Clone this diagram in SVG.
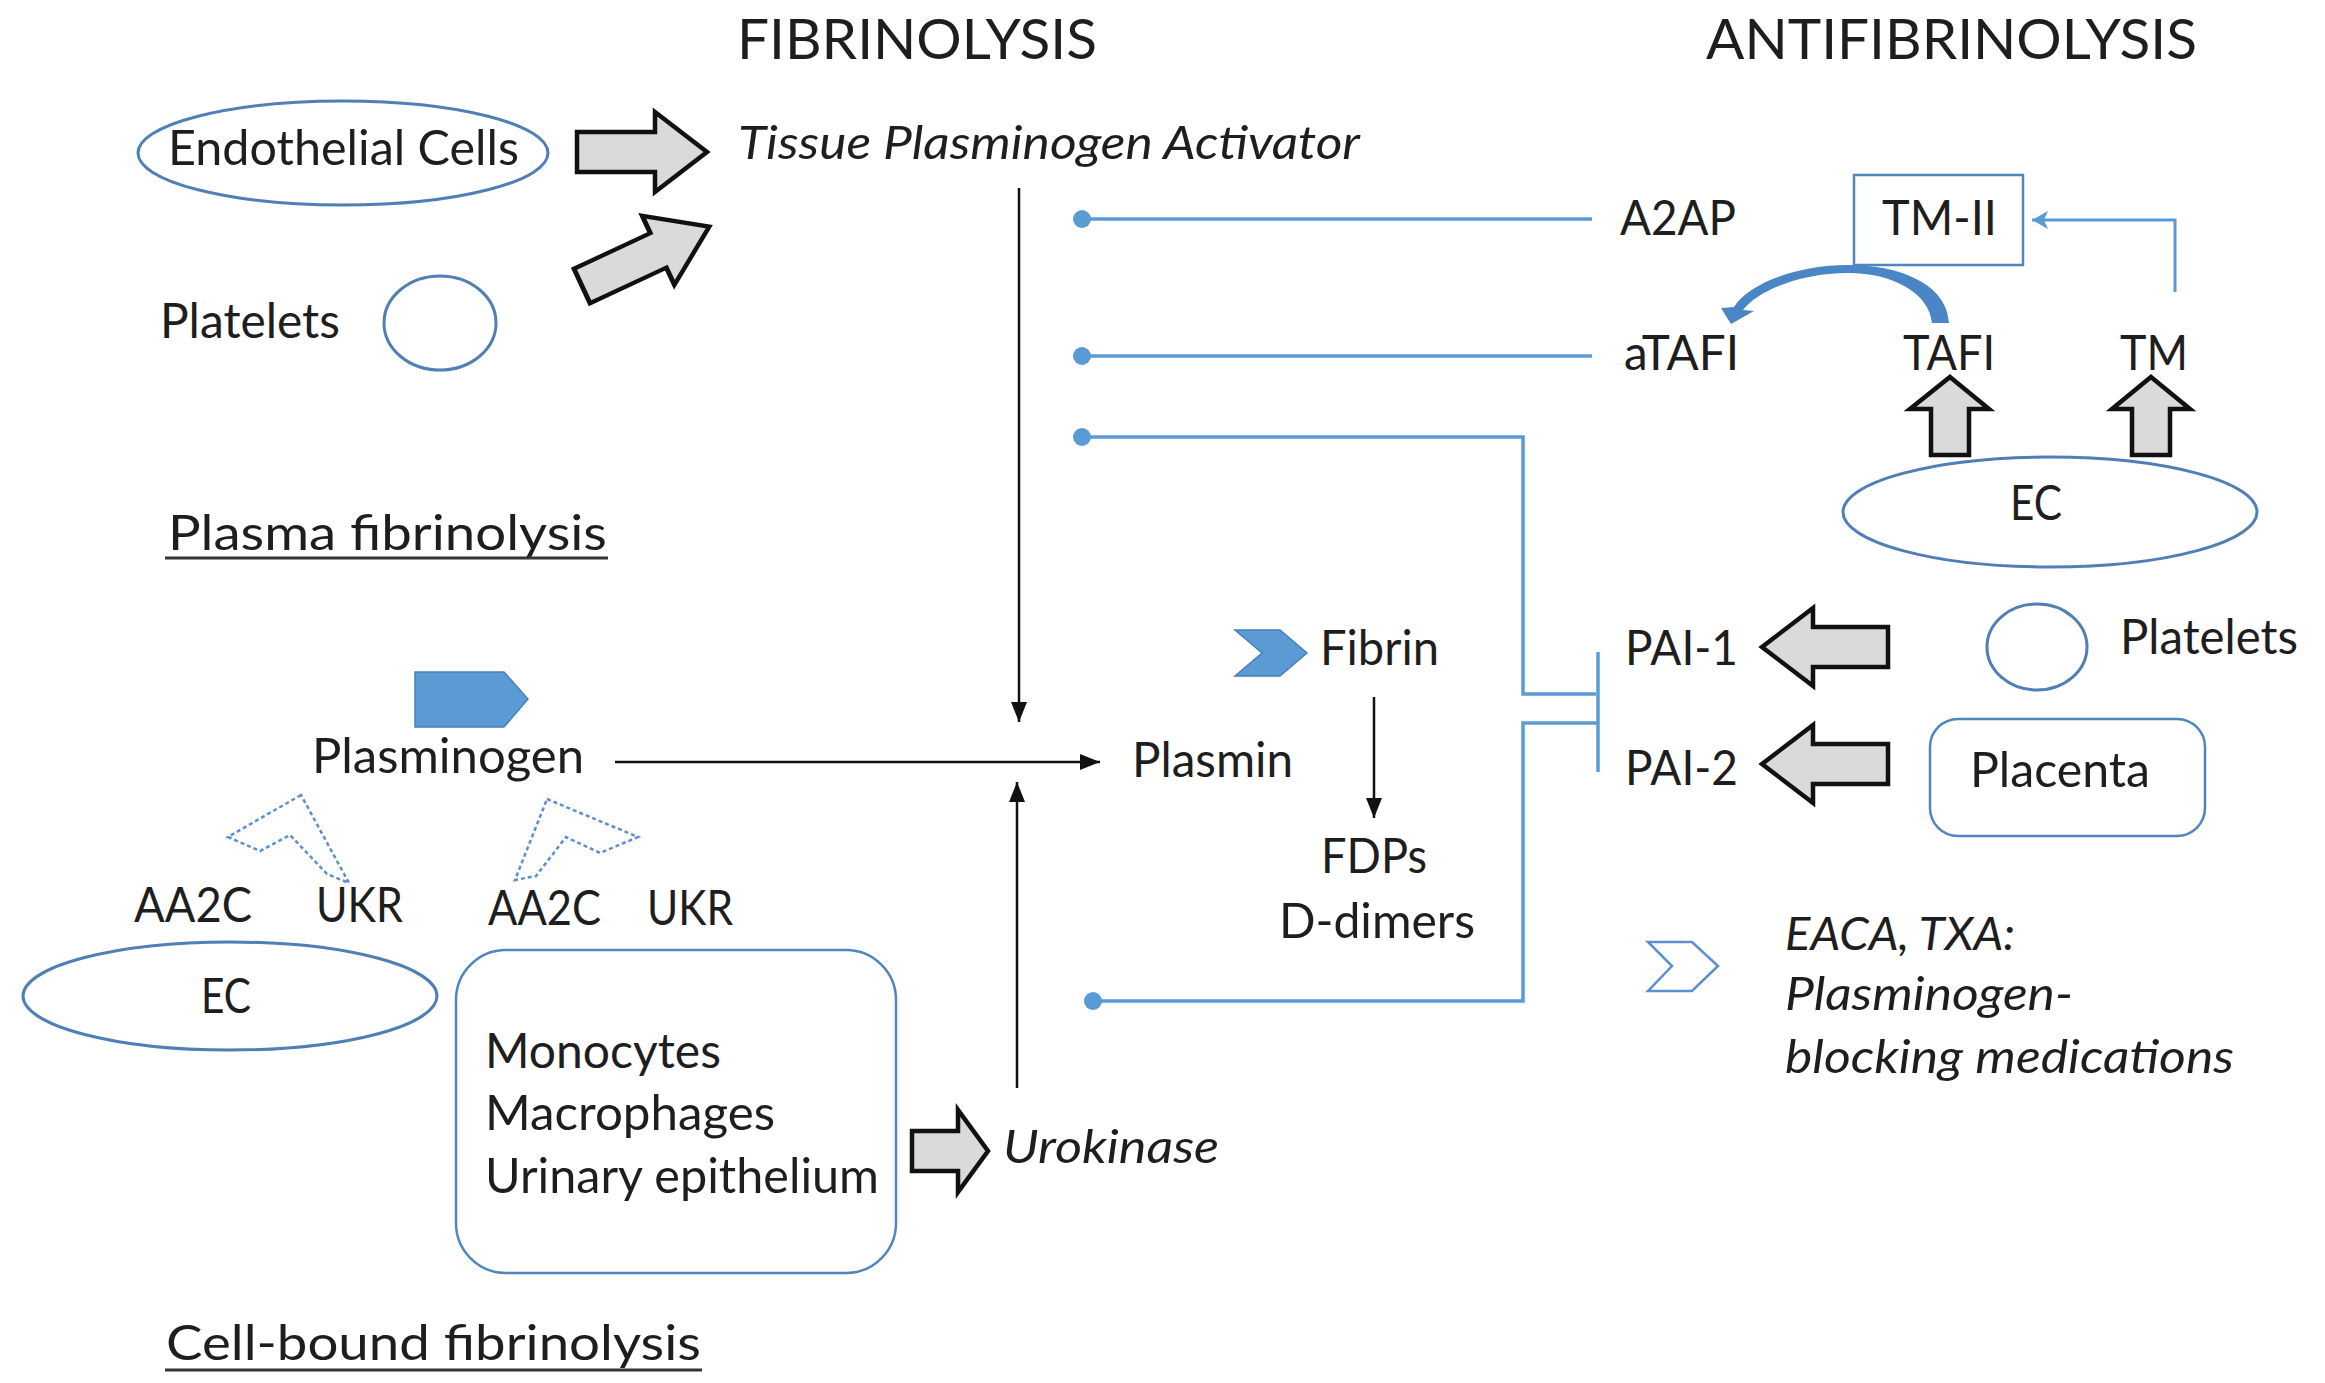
<svg xmlns="http://www.w3.org/2000/svg" width="2325" height="1383" viewBox="0 0 2325 1383">
<defs>
<style>
text{font-family:Lato,"Open Sans","Liberation Sans",sans-serif;fill:#1e1e1e;font-size:48px}
.h{font-size:57px}
.it{font-style:italic;font-size:47px}
.ell{fill:#fff;stroke:#4f7fb5;stroke-width:3}
.box{fill:#fff;stroke:#4f86c0;stroke-width:2.5}
.bl{fill:none;stroke:#5b9bd5;stroke-width:3.5}
.dot{fill:#5b9bd5}
.blk{fill:none;stroke:#111;stroke-width:2.5}
.ga{fill:#dadada;stroke:#111;stroke-width:4.5;stroke-linejoin:miter}
.dash{fill:none;stroke:#5b8fd0;stroke-width:2.5;stroke-dasharray:4 3}
.ul{stroke:#333;stroke-width:3}
</style>
<marker id="ah" viewBox="0 0 20 16" refX="20" refY="8" markerWidth="20" markerHeight="16" markerUnits="userSpaceOnUse" orient="auto">
<path d="M0,0 L20,8 L0,16 Z" fill="#111"/>
</marker>
<marker id="bah" viewBox="0 0 16 18" refX="16" refY="9" markerWidth="16" markerHeight="18" markerUnits="userSpaceOnUse" orient="auto">
<path d="M0,0 L16,9 L0,18 L4,9 Z" fill="#5b9bd5"/>
</marker>
<path id="bigR" d="M0,-20 H78 V-40 L130,0 L78,40 V20 H0 Z"/>
</defs>
<rect width="2325" height="1383" fill="#fff"/>

<g id="headings">
<text class="h" x="737" y="59" textLength="360" lengthAdjust="spacingAndGlyphs">FIBRINOLYSIS</text>
<text class="h" x="1706" y="59" textLength="491" lengthAdjust="spacingAndGlyphs">ANTIFIBRINOLYSIS</text>
</g>

<g id="connectors">
<!-- black arrows -->
<line class="blk" x1="1019" y1="188" x2="1019" y2="722" marker-end="url(#ah)"/>
<line class="blk" x1="615" y1="762" x2="1100" y2="762" marker-end="url(#ah)"/>
<line class="blk" x1="1017" y1="1088" x2="1017" y2="782" marker-end="url(#ah)"/>
<line class="blk" x1="1374" y1="697" x2="1374" y2="818" marker-end="url(#ah)"/>
<!-- blue inhibition lines -->
<circle class="dot" cx="1082" cy="219" r="9"/>
<line class="bl" x1="1082" y1="219" x2="1592" y2="219"/>
<circle class="dot" cx="1082" cy="356" r="9"/>
<line class="bl" x1="1082" y1="356" x2="1592" y2="356"/>
<circle class="dot" cx="1082" cy="437" r="9"/>
<path class="bl" d="M1082,437 H1523 V694 H1596"/>
<circle class="dot" cx="1093" cy="1001" r="9"/>
<path class="bl" d="M1093,1001 H1523 V723 H1598"/>
<line class="bl" x1="1598" y1="652" x2="1598" y2="772" stroke-width="3"/>
<!-- TM to TM-II -->
<path fill="none" stroke="#5b9bd5" stroke-width="3" d="M2175,292 V220 H2032" marker-end="url(#bah)"/>
<!-- curved TAFI -> aTAFI -->
<path fill="#4a86c5" d="M1949,323 C1947,284 1900,265 1848,265 C1796,265 1748,284 1734,307 L1721,308 L1731,324 L1754,311 L1743,310 C1757,291 1800,273 1848,273 C1893,273 1929,293 1932,323 Z"/>
<!-- big gray arrows -->
<use href="#bigR" class="ga" transform="translate(577,152)"/>
<use href="#bigR" class="ga" transform="translate(582,286) rotate(-25) scale(1.08,0.95)"/>
<path class="ga" d="M912,1131 H958 V1110 L988,1151 L958,1192 V1171 H912 Z"/>
<path class="ga" d="M1762,647 L1813,608 V627 H1888 V667 H1813 V686 Z"/>
<path class="ga" d="M1762,764 L1813,725 V744 H1888 V784 H1813 V803 Z"/>
<path class="ga" d="M1950,377 L1989,409 H1969 V455 H1931 V409 H1910 Z"/>
<path class="ga" d="M2151,377 L2190,409 H2170 V455 H2132 V409 H2112 Z"/>
<!-- dotted arrows -->
<path class="dash" d="M301,795 L228,837 L260,851 L290,835 L327,874 L349,883 Z"/>
<path class="dash" d="M547,799 L638,837 L600,853 L566,837 L536,876 L515,880 Z"/>
</g>

<g id="endothelial">
<ellipse class="ell" cx="343" cy="153" rx="205" ry="52"/>
<text x="168" y="165" textLength="351" lengthAdjust="spacingAndGlyphs">Endothelial Cells</text>
</g>
<g id="platelets-left">
<text x="160" y="338" textLength="180" lengthAdjust="spacingAndGlyphs">Platelets</text>
<ellipse class="ell" cx="440" cy="323" rx="56" ry="47"/>
</g>
<g id="tpa">
<text class="it" x="738" y="159" textLength="622" lengthAdjust="spacingAndGlyphs">Tissue Plasminogen Activator</text>
</g>
<g id="plasma-label">
<text x="168" y="550" textLength="439" lengthAdjust="spacingAndGlyphs">Plasma fibrinolysis</text>
<line class="ul" x1="165" y1="558" x2="608" y2="558"/>
</g>
<g id="a2ap"><text x="1620" y="235" textLength="116" lengthAdjust="spacingAndGlyphs">A2AP</text></g>
<g id="tm2">
<rect class="box" x="1854" y="175" width="169" height="90"/>
<text x="1882" y="235" textLength="115" lengthAdjust="spacingAndGlyphs">TM-II</text>
</g>
<g id="atafi"><text x="1624" y="370" textLength="115" lengthAdjust="spacingAndGlyphs">aTAFI</text></g>
<g id="tafi"><text x="1903" y="370" textLength="92" lengthAdjust="spacingAndGlyphs">TAFI</text></g>
<g id="tm"><text x="2120" y="370" textLength="68" lengthAdjust="spacingAndGlyphs">TM</text></g>
<g id="ec-right">
<ellipse class="ell" cx="2050" cy="512" rx="207" ry="55"/>
<text x="2010" y="520" textLength="52" lengthAdjust="spacingAndGlyphs">EC</text>
</g>
<g id="pai1"><text x="1625" y="665" textLength="113" lengthAdjust="spacingAndGlyphs">PAI-1</text></g>
<g id="pai2"><text x="1625" y="785" textLength="113" lengthAdjust="spacingAndGlyphs">PAI-2</text></g>
<g id="platelets-right">
<ellipse class="ell" cx="2037" cy="647" rx="50" ry="43"/>
<text x="2120" y="654" textLength="178" lengthAdjust="spacingAndGlyphs">Platelets</text>
</g>
<g id="placenta">
<rect class="box" x="1930" y="719" width="275" height="117" rx="28"/>
<text x="1970" y="787" textLength="180" lengthAdjust="spacingAndGlyphs">Placenta</text>
</g>
<g id="fibrin">
<path d="M1235,630 H1280 L1307,653 L1280,676 H1235 L1262,653 Z" fill="#5b9bd5" stroke="#4a7fb8" stroke-width="1.5"/>
<text x="1320" y="665" textLength="119" lengthAdjust="spacingAndGlyphs">Fibrin</text>
</g>
<g id="fdps">
<text x="1321" y="873" textLength="106" lengthAdjust="spacingAndGlyphs">FDPs</text>
<text x="1279" y="938" textLength="196" lengthAdjust="spacingAndGlyphs">D-dimers</text>
</g>
<g id="plasmin"><text x="1132" y="777" textLength="161" lengthAdjust="spacingAndGlyphs">Plasmin</text></g>
<g id="plasminogen">
<path d="M415,672 H504 L528,699 L504,727 H415 Z" fill="#5b9bd5" stroke="#4a7fb8" stroke-width="1.5"/>
<text x="312" y="773" textLength="272" lengthAdjust="spacingAndGlyphs">Plasminogen</text>
</g>
<g id="receptors">
<text x="134" y="922" textLength="118" lengthAdjust="spacingAndGlyphs">AA2C</text>
<text x="316" y="922" textLength="87" lengthAdjust="spacingAndGlyphs">UKR</text>
<text x="488" y="925" textLength="113" lengthAdjust="spacingAndGlyphs">AA2C</text>
<text x="647" y="925" textLength="86" lengthAdjust="spacingAndGlyphs">UKR</text>
</g>
<g id="ec-left">
<ellipse class="ell" cx="230" cy="996" rx="207" ry="54"/>
<text x="201" y="1013" textLength="50" lengthAdjust="spacingAndGlyphs">EC</text>
</g>
<g id="cells">
<rect class="box" x="456" y="950" width="440" height="323" rx="50"/>
<text x="485" y="1068" textLength="236" lengthAdjust="spacingAndGlyphs">Monocytes</text>
<text x="485" y="1130" textLength="290" lengthAdjust="spacingAndGlyphs">Macrophages</text>
<text x="485" y="1193" textLength="394" lengthAdjust="spacingAndGlyphs">Urinary epithelium</text>
</g>
<g id="urokinase"><text class="it" x="1003" y="1163" textLength="216" lengthAdjust="spacingAndGlyphs">Urokinase</text></g>
<g id="cellbound-label">
<text x="166" y="1360" textLength="535" lengthAdjust="spacingAndGlyphs">Cell-bound fibrinolysis</text>
<line class="ul" x1="165" y1="1370" x2="702" y2="1370"/>
</g>
<g id="eaca">
<path d="M1648,942 H1692 L1718,966 L1692,991 H1648 L1672,966 Z" fill="#fff" stroke="#5b8fd0" stroke-width="2.5"/>
<text class="it" x="1785" y="950" textLength="230" lengthAdjust="spacingAndGlyphs">EACA, TXA:</text>
<text class="it" x="1785" y="1010" textLength="288" lengthAdjust="spacingAndGlyphs">Plasminogen-</text>
<text class="it" x="1785" y="1073" textLength="449" lengthAdjust="spacingAndGlyphs">blocking medications</text>
</g>
</svg>
